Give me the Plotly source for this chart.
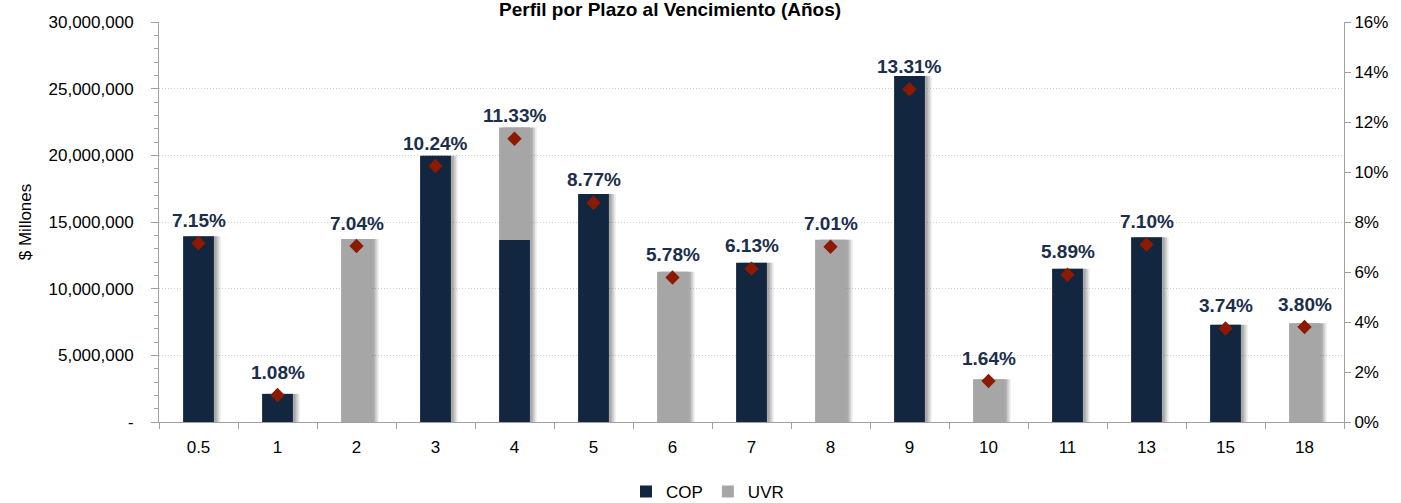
import plotly.graph_objects as go

plazos = ["0.5", "1", "2", "3", "4", "5", "6", "7", "8", "9", "10", "11", "13", "15", "18"]
cop = [13.94, 2.11, 0, 19.97, 13.65, 17.10, 0, 11.95, 0, 25.95, 0, 11.49, 13.85, 7.29, 0]
uvr = [0, 0, 13.73, 0, 8.44, 0, 11.27, 0, 13.67, 0, 3.20, 0, 0, 0, 7.41]
pct = [7.15, 1.08, 7.04, 10.24, 11.33, 8.77, 5.78, 6.13, 7.01, 13.31, 1.64, 5.89, 7.10, 3.74, 3.80]

left_vals = [0, 5, 10, 15, 20, 25, 30]
left_text = ["-", "5,000,000", "10,000,000", "15,000,000", "20,000,000", "25,000,000", "30,000,000"]
right_vals = [0, 2, 4, 6, 8, 10, 12, 14, 16]

FONT = "Liberation Sans, Arial, sans-serif"
NAVY = "#12263F"
GRAY = "#A6A6A6"
RED = "#8B1A00"
LBL = "#1B2E4B"
BW = 0.39

cop_m = [v * 1e6 for v in cop]
uvr_m = [v * 1e6 for v in uvr]
tot_m = [a + b for a, b in zip(cop_m, uvr_m)]

fig = go.Figure()
# soft drop shadows
for off, op in [(0.085, 0.12), (0.06, 0.18), (0.035, 0.22)]:
    fig.add_trace(go.Bar(x=plazos, y=tot_m, offset=-BW / 2 + off, width=BW,
                         marker_color=f"rgba(60,60,60,{op})", marker_line_width=0,
                         showlegend=False, hoverinfo="skip"))
fig.add_trace(go.Bar(x=plazos, y=cop_m, name="COP", marker_color=NAVY,
                     marker_line_width=0, width=BW, offset=-BW / 2))
fig.add_trace(go.Bar(x=plazos, y=uvr_m, base=cop_m, name="UVR", marker_color=GRAY,
                     marker_line_width=0, width=BW, offset=-BW / 2))
fig.add_trace(go.Scatter(x=plazos, y=pct, yaxis="y2", mode="markers", showlegend=False,
                         marker=dict(symbol="diamond", size=11, color=RED)))

for i, v in enumerate(pct):
    fig.add_annotation(x=i, y=v, xref="x", yref="y2", text=f"{v:.2f}%", showarrow=False,
                       yshift=23, yanchor="middle",
                       font=dict(family=FONT, size=19, color=LBL, weight="bold"))

fig.add_annotation(x=0.431, y=1.03, xref="paper", yref="paper",
                   text="<b>Perfil por Plazo al Vencimiento (Años)</b>", showarrow=False,
                   xanchor="center", yanchor="middle",
                   font=dict(family=FONT, size=19, color="#000000"))

fig.update_layout(
    width=1401, height=503,
    margin=dict(l=159, r=57, t=22, b=81),
    paper_bgcolor="white", plot_bgcolor="white",
    barmode="overlay",
    font=dict(family=FONT, size=17, color="#000000"),
    showlegend=True,
    legend=dict(orientation="h", x=0.505, xref="container", xanchor="center",
                y=0.022, yref="container", yanchor="middle",
                font=dict(size=17), itemwidth=30, traceorder="normal"),
    xaxis=dict(type="category", range=[-0.5, 14.5], automargin=False, showgrid=False,
               showline=True, linecolor="#A0A0A0",
               linewidth=1, ticks="outside", tickson="boundaries", ticklen=6,
               tickcolor="#A0A0A0", tickfont=dict(size=17), ticklabelstandoff=10),
    yaxis=dict(range=[0, 30e6], automargin=False, tickvals=[v * 1e6 for v in left_vals],
               ticktext=left_text,
               showline=True, linecolor="#A0A0A0", linewidth=1, ticks="outside", ticklen=7,
               tickcolor="#A0A0A0", showgrid=True, gridcolor="#CFCFCF", griddash="1px,2px",
               gridwidth=1, zeroline=False, tickfont=dict(size=17), ticklabelstandoff=14,
               minor=dict(dtick=1e6, ticks="outside", ticklen=4, tickcolor="#A0A0A0", showgrid=False),
               title=dict(text="$ Millones", font=dict(size=17), standoff=12)),
    yaxis2=dict(range=[0, 16], automargin=False, overlaying="y", side="right",
                tickvals=right_vals,
                ticktext=[f"{v}%" for v in right_vals], showline=True, linecolor="#A0A0A0",
                linewidth=1, ticks="outside", ticklen=6, tickcolor="#A0A0A0",
                showgrid=False, zeroline=False, tickfont=dict(size=17)),
)

fig.write_html("out.html", config={"displayModeBar": False},
               post_script="document.body.style.margin='0px';")
